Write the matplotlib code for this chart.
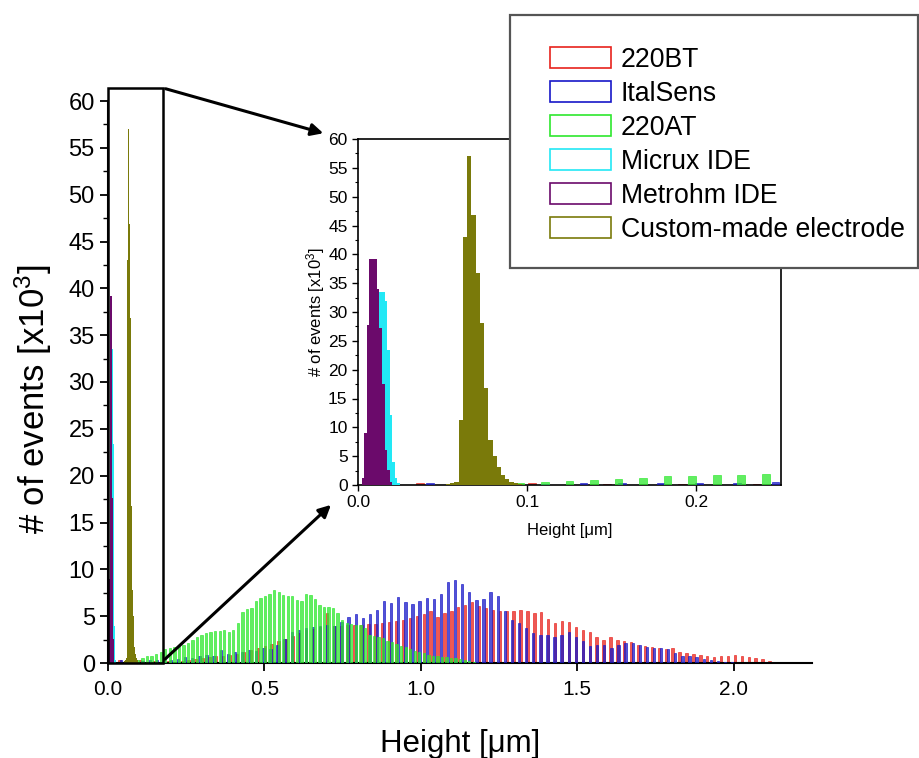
import numpy as np
import matplotlib
matplotlib.use("Agg")
import matplotlib.pyplot as plt
from matplotlib.patches import Patch, Rectangle, FancyArrowPatch

plt.rcParams['font.family'] = ['Liberation Sans', 'DejaVu Sans']
plt.rcParams['mathtext.fontset'] = 'custom'
plt.rcParams['mathtext.rm'] = 'Liberation Sans'
plt.rcParams['mathtext.it'] = 'Liberation Sans'

# --- histogram data (counts in thousands, heights in um) ---
labels = ["220BT", "ItalSens", "220AT", "Micrux IDE", "Metrohm IDE", "Custom-made electrode"]
colors = ["#e8221c", "#1818c8", "#2ee82e", "#22e8f5", "#6b0a6b", "#7a7a0a"]

bt220_start, bt220_bin = 0.0367, 0.0221
bt220_counts = [0.3, 0, 0, 0.3, 0, 0.2, 0, 0.2, 0, 0.2, 0.3, 0.4, 0.5, 0.6, 0.7, 0.8,
                0.9, 1.0, 1.2, 1.4, 1.6, 1.8, 2.0, 2.3, 2.6, 2.9, 3.2, 3.5, 3.6, 3.8,
                5.3, 3.9, 4.0, 4.1, 4.1, 4.1, 4.2, 4.2, 4.3, 4.4, 4.5, 4.6, 4.8, 5.0,
                5.2, 5.5, 4.9, 5.3, 5.5, 6.0, 6.2, 6.5, 6.1, 5.9, 5.7, 5.5, 5.5, 5.6,
                5.7, 5.6, 5.3, 5.4, 4.7, 4.3, 4.5, 4.4, 3.8, 3.5, 3.3, 2.8, 2.5, 2.8,
                2.5, 2.4, 2.2, 1.9, 1.8, 1.7, 1.6, 1.5, 1.6, 1.2, 1.1, 1.0, 0.9, 0.7,
                0.6, 0.8, 0.8, 0.9, 0.8, 0.6, 0.5, 0.4, 0.2]

italsens_start, italsens_bin = 0.0425, 0.0227
italsens_counts = [0.3, 0, 0, 0.2, 0.3, 0.3, 0.3, 0.3, 0.4, 0.6, 0.5, 0.7, 0.9, 0.8,
                   1.4, 1.0, 1.2, 1.2, 1.4, 1.3, 1.6, 1.5, 1.9, 2.6, 3.3, 3.5, 3.7,
                   3.8, 3.9, 4.1, 4.0, 4.4, 4.9, 5.2, 4.8, 5.2, 5.7, 6.6, 6.4, 7.0,
                   6.5, 6.3, 6.6, 6.9, 6.8, 7.4, 8.7, 8.9, 8.4, 7.6, 6.7, 6.8, 7.6,
                   7.1, 5.5, 4.6, 4.3, 3.7, 3.2, 3.0, 3.0, 2.8, 3.0, 3.3, 2.8, 2.3,
                   1.8, 1.9, 1.9, 1.6, 1.9, 2.1, 2.1, 1.9, 1.7, 1.6, 1.6, 1.5, 1.1,
                   0.8, 0.7, 0.6, 0.4, 0.3, 0.2, 0.15, 0.1, 0.05]

at220_start, at220_bin = 0.096, 0.0145
at220_counts = [0.3, 0.5, 0.7, 0.8, 1.0, 1.2, 1.5, 1.6, 1.7, 1.8, 1.9, 2.1, 2.5, 2.8,
                3.0, 3.2, 3.3, 3.4, 3.4, 3.5, 3.3, 3.5, 4.3, 5.4, 5.8, 5.9, 6.6, 6.9,
                7.1, 7.4, 7.8, 7.6, 7.3, 7.2, 7.2, 6.7, 6.6, 7.4, 7.3, 6.8, 6.2, 6.0,
                6.0, 5.9, 5.3, 4.6, 4.3, 4.2, 4.1, 4.1, 3.7, 3.0, 2.9, 2.8, 2.7, 2.3,
                2.2, 2.0, 1.8, 1.7, 1.5, 1.3, 1.2, 1.1, 0.9, 0.8, 0.7, 0.6, 0.6, 0.5,
                0.5, 0.4, 0.3, 0.2, 0.1]

micrux_start, micrux_bin = 0.0037, 0.0015
micrux_counts = [2.0, 8.0, 18.0, 27.0, 31.0, 33.0, 33.5, 33.5, 31.9, 23.4, 12.1, 4.0, 1.2, 0.3]

metrohm_start, metrohm_bin = 0.0022, 0.0015
metrohm_counts = [1.2, 9.0, 27.8, 39.2, 39.2, 39.2, 34.0, 27.2, 17.6, 6.1, 2.6, 0.5]

custom_start, custom_bin = 0.0520, 0.0025
custom_counts = [0.2, 0.3, 0.5, 11.3, 43.0, 57.0, 46.9, 36.8, 28.1, 16.8, 7.8, 5.0,
                 3.2, 1.7, 1.0, 0.5, 0.3, 0.2]


def centers(start, width, counts):
    return start + width * np.arange(len(counts))


def edges(start, width, counts):
    return start + width * np.arange(len(counts) + 1)


def draw_series(ax, bar_width):
    # coarse histograms drawn as separated bars, fine ones as filled steps
    coarse = [(bt220_start, bt220_bin, bt220_counts, colors[0]),
              (italsens_start, italsens_bin, italsens_counts, colors[1]),
              (at220_start, at220_bin, at220_counts, colors[2])]
    for z, (s, w, c, col) in enumerate(coarse):
        ax.bar(centers(s, w, c), c, width=bar_width, color=col, alpha=0.75,
               edgecolor=col, linewidth=0.6, zorder=2 + z)
    fine = [(micrux_start, micrux_bin, micrux_counts, colors[3]),
            (metrohm_start, metrohm_bin, metrohm_counts, colors[4]),
            (custom_start, custom_bin, custom_counts, colors[5])]
    for z, (s, w, c, col) in enumerate(fine):
        ax.stairs(c, edges(s, w, c), fill=True, color=col, zorder=6 + z)


W, H = 919, 758
fig = plt.figure(figsize=(W / 100, H / 100), dpi=100)

# main axes
ax = fig.add_axes([108 / W, 1 - 663 / H, 704 / W, 562 / H])
draw_series(ax, 0.0075)
ax.set_xlim(0, 2.25)
ax.set_ylim(0, 60)
ax.set_xticks([0, 0.5, 1.0, 1.5, 2.0])
ax.set_xticklabels(["0.0", "0.5", "1.0", "1.5", "2.0"])
ax.set_yticks(np.arange(0, 61, 5))
ax.set_yticks(np.arange(2.5, 60, 5), minor=True)
ax.spines['top'].set_visible(False)
ax.spines['right'].set_visible(False)
for s in ['left', 'bottom']:
    ax.spines[s].set_linewidth(1.5)
ax.tick_params(axis='y', which='major', labelsize=17, length=6, width=1.3, direction='out')
ax.tick_params(axis='y', which='minor', length=3.5, width=1.0, direction='out')
ax.tick_params(axis='x', which='major', labelsize=15, length=6, width=1.3, direction='out', pad=6)
ax.set_xlabel("Height [μm]", fontsize=22.5, labelpad=22)
ax.set_ylabel("# of events [x10$^3$]", fontsize=25)
ax.yaxis.set_label_coords(-0.077, 0.47)

# zoom box on the main axes
ax.add_patch(Rectangle((0, 0), 0.176, 61.4, fill=False, lw=1.8, edgecolor='black',
                       clip_on=False, zorder=10))

# inset axes
axin = fig.add_axes([358 / W, 1 - 485 / H, 423 / W, 346 / H])
draw_series(axin, 0.0045)
axin.set_xlim(0, 0.25)
axin.set_ylim(0, 60)
axin.set_xticks([0, 0.1, 0.2])
axin.set_xticklabels(["0.0", "0.1", "0.2"])
axin.set_yticks(np.arange(0, 61, 5))
axin.set_yticks(np.arange(2.5, 60, 5), minor=True)
for s in axin.spines.values():
    s.set_linewidth(1.2)
axin.tick_params(which='major', labelsize=12.5, length=4, width=1.0, direction='out')
axin.tick_params(which='minor', length=2.5, width=0.8, direction='out')
axin.set_xlabel("Height [μm]", fontsize=12, labelpad=9)
axin.set_ylabel("# of events [x10$^3$]", fontsize=12, labelpad=1)

# connecting arrows (figure pixel positions)
def fpx(x, y):
    return (x / W, 1 - y / H)

for start, end in [((163, 88), (326, 134)), ((163, 661), (333, 503))]:
    fig.add_artist(FancyArrowPatch(
        fpx(*start), fpx(*end), transform=fig.transFigure, arrowstyle='-|>',
        mutation_scale=18, lw=2.2, color='black', zorder=20))

# legend with its own frame
frame = Rectangle((510 / W, 1 - 268 / H), 408 / W, 253 / H, transform=fig.transFigure,
                  facecolor='white', edgecolor='#555555', lw=1.6, zorder=30)
fig.add_artist(frame)
handles = [Patch(facecolor='white', edgecolor=c, lw=1.2) for c in colors]
leg = fig.legend(handles, labels, loc='upper left', bbox_to_anchor=fpx(550, 47),
                 frameon=False, fontsize=19.2, handlelength=2.3, handleheight=0.85,
                 handletextpad=0.35, labelspacing=0.30, borderpad=0, borderaxespad=0)
leg.set_zorder(31)

fig.savefig("out.png", dpi=100)
